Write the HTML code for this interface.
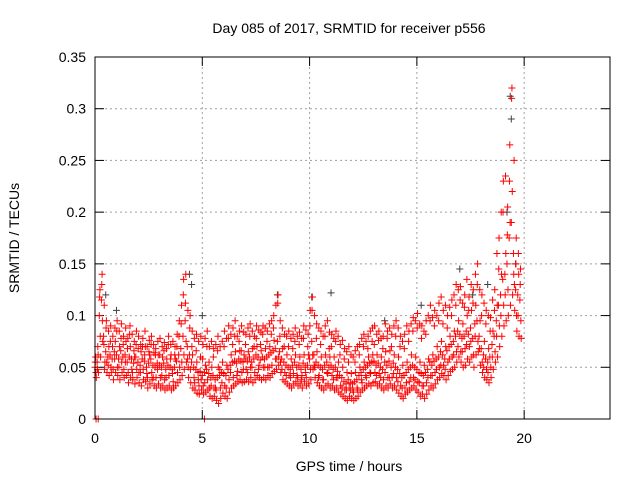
<!DOCTYPE html>
<html><head><meta charset="utf-8"><style>
body{margin:0;background:#fff}
svg{display:block;font-family:"Liberation Sans",sans-serif}
</style></head><body>
<svg id="chart" width="640" height="480">
<text x="349" y="33" font-size="14" text-anchor="middle">Day 085 of 2017, SRMTID for receiver p556</text>
<text x="349" y="471" font-size="14" text-anchor="middle">GPS time / hours</text>
<text transform="translate(19,238) rotate(-90)" font-size="14" text-anchor="middle">SRMTID / TECUs</text>
<g id="grid"></g>
<g id="ticks"></g>
<g id="dark"></g>
<g id="red"></g>
<rect x="95" y="57" width="515" height="362" fill="none" stroke="#000" stroke-width="1"/>
</svg>
<script>
const xTicks=[0,5,10,15,20];
const yTicks=[0,0.05,0.1,0.15,0.2,0.25,0.3,0.35];
const yTickLabels=["0","0.05","0.1","0.15","0.2","0.25","0.3","0.35"];
const high=[60,70,125,140,110,95,85,90,80,88,95,85,92,80,88,78,90,82,75,85,80,72,78,85,70,76,80,72,68,75,78,70,74,68,80,72,75,70,82,95,110,135,140,105,100,85,78,82,75,80,72,78,85,70,75,68,72,80,70,75,85,78,90,82,88,95,80,85,90,84,82,88,92,85,80,90,86,84,90,88,85,92,95,100,110,120,95,88,82,80,85,78,82,88,80,84,78,90,86,82,105,118,100,92,88,85,80,90,95,84,82,78,85,80,72,76,68,65,70,62,60,66,70,72,78,82,75,80,85,88,90,82,85,78,80,92,85,88,82,90,95,88,80,75,82,90,85,92,98,95,102,92,90,85,95,100,110,98,105,100,112,118,105,110,100,108,115,120,130,125,128,112,120,135,118,130,125,140,150,125,120,112,105,100,98,115,125,160,175,200,230,235,205,265,320,250,175,160,145];
const mid=[50,55,100,115,80,65,60,62,58,65,62,58,66,60,62,55,60,58,54,60,55,52,58,56,50,54,58,52,50,54,52,50,54,48,52,50,48,50,56,62,68,80,95,70,62,55,50,48,45,46,42,45,48,44,40,42,38,40,42,45,44,42,48,52,55,56,54,58,56,55,58,56,60,55,58,62,60,57,60,58,60,62,64,66,68,75,65,58,55,52,50,48,52,55,50,52,48,54,50,52,58,75,62,55,52,50,48,52,55,50,52,48,50,46,42,40,36,34,38,35,34,36,38,42,45,48,50,52,54,55,56,52,54,50,48,55,52,56,50,54,50,48,44,40,42,45,48,50,52,50,48,45,44,42,45,48,55,52,56,58,60,65,62,58,66,70,72,75,80,85,82,78,80,85,82,88,78,92,95,80,68,62,58,55,60,72,80,95,110,120,135,140,150,175,190,160,125,120,115];
const low=[40,45,60,75,55,45,42,45,38,45,42,38,45,40,42,35,40,38,34,40,35,32,38,36,30,34,38,32,30,34,30,32,28,30,32,28,30,32,35,38,42,48,55,40,35,30,28,25,24,28,24,26,28,22,20,22,18,15,20,25,22,20,26,30,32,34,36,38,35,36,38,36,40,35,38,42,40,38,40,38,42,40,44,46,48,52,45,38,36,34,32,30,34,36,32,34,30,36,32,34,38,48,40,35,32,30,28,32,34,30,32,28,30,26,24,22,20,18,22,20,18,20,22,26,28,30,32,34,32,35,36,32,34,30,28,32,30,34,30,32,28,25,22,20,24,26,28,30,32,28,26,22,24,20,24,28,32,30,34,38,40,44,42,38,42,46,48,50,55,60,55,50,52,58,55,60,50,62,65,52,45,40,38,35,40,48,55,60,70,80,90,95,100,110,120,105,85,80,78];
const scatA=[55,48,118,130,72,88,52,75,70,58,85,50,78,72,55,68,82,48,66,72,68,45,70,62,44,65,72,40,62,48,62,42,66,40,72,58,44,62,70,80,92,120,112,58,88,70,40,66,38,60,58,35,70,55,32,60,30,66,48,35,70,30,78,45,72,80,42,75,66,48,72,45,80,50,70,78,48,72,82,50,75,50,82,88,58,112,80,48,70,42,70,40,68,75,42,72,38,78,45,70,90,105,52,78,40,72,38,80,45,68,70,38,75,40,62,30,58,28,55,28,28,55,30,62,38,70,42,68,45,75,72,42,76,40,68,45,78,40,70,44,80,36,70,30,68,35,75,40,85,38,88,35,78,32,82,40,95,42,90,48,95,52,92,48,88,58,100,62,110,70,115,65,108,72,105,75,112,80,130,68,100,50,92,45,85,60,105,80,145,100,200,120,178,230,310,140,150,100,130];
const scatB=[45,62,80,95,48,55,70,50,48,75,50,70,55,48,75,45,70,45,60,48,45,65,48,70,40,62,45,64,40,62,40,60,38,58,42,62,36,58,45,50,55,62,75,50,48,62,35,55,32,38,32,52,38,30,50,30,28,50,30,55,32,52,38,62,40,65,46,66,45,62,48,65,50,68,45,70,52,66,50,68,50,70,52,76,58,60,55,68,45,62,42,58,44,62,40,60,42,62,40,62,48,62,50,65,42,60,38,62,44,60,42,60,40,55,32,50,28,45,30,44,26,45,28,50,35,55,40,60,44,62,45,62,44,60,38,65,40,66,40,62,40,60,32,52,30,55,36,62,40,60,36,55,32,52,35,58,42,62,45,70,50,75,52,70,55,80,60,85,65,95,65,92,68,100,70,105,62,110,75,95,55,75,48,68,50,85,65,110,90,140,110,160,125,190,220,130,100,140,95];
const darkX=[0.5,1.0,4.4,4.5,5.0,8.5,10.1,11.0,13.5,15.2,17.0,17.6,18.3,19.2,19.35,19.4,19.6];
const darkY=[0.12,0.105,0.14,0.13,0.1,0.12,0.118,0.122,0.095,0.11,0.145,0.12,0.13,0.2,0.312,0.29,0.15];
const redZeroX=[0.05,0.15,5.1];
const NS="http://www.w3.org/2000/svg";
const X=h=>95+h*(515/24);
const Y=v=>419-v*(362/0.35);
const grid=document.getElementById('grid'),ticks=document.getElementById('ticks'),svg=document.getElementById('chart');
function mk(tag,parent,attrs){const e=document.createElementNS(NS,tag);for(const k in attrs)e.setAttribute(k,attrs[k]);parent.appendChild(e);return e;}
xTicks.forEach(t=>{
  const gl=mk('line',grid,{x1:X(t),x2:X(t),y1:57,y2:419,stroke:'#a0a0a0','stroke-dasharray':'2,3'});
  
  
  mk('line',ticks,{x1:X(t),x2:X(t),y1:419,y2:410,stroke:'#000'});
  mk('line',ticks,{x1:X(t),x2:X(t),y1:57,y2:66,stroke:'#000'});
  const lb=mk('text',svg,{x:X(t),y:443,'font-size':14,'text-anchor':'middle'});
  lb.textContent=String(t);
  
  
});
yTicks.forEach((v,i)=>{
  const gl=mk('line',grid,{x1:95,x2:610,y1:Y(v),y2:Y(v),stroke:'#a0a0a0','stroke-dasharray':'2,3'});
  
  
  mk('line',ticks,{x1:95,x2:104,y1:Y(v),y2:Y(v),stroke:'#000'});
  mk('line',ticks,{x1:610,x2:601,y1:Y(v),y2:Y(v),stroke:'#000'});
  const lb=mk('text',svg,{x:86,y:Y(v)+5,'font-size':14,'text-anchor':'end'});
  lb.textContent=yTickLabels[i];
  
  
});
function plus(g,h,v,col){
  const x=X(h),y=Y(v);
  const p=mk('path',g,{d:`M${x-3.5},${y}H${x+3.5}M${x},${y-3.5}V${y+3.5}`,stroke:col,'stroke-width':1,fill:'none'});
  
  
}
const dark=document.getElementById('dark'),red=document.getElementById('red');
darkX.forEach((h,i)=>plus(dark,h,darkY[i],'#404040'));
for(let i=0;i<mid.length;i++){
  const t=i*0.1;
  plus(red,t,mid[i]/1000,'#ff0000');
  plus(red,t+0.015,scatA[i]/1000,'#ff0000');
  plus(red,t+0.03,high[i]/1000,'#ff0000');
  plus(red,t+0.045,scatB[i]/1000,'#ff0000');
  plus(red,t+0.06,low[i]/1000,'#ff0000');
}
redZeroX.forEach(h=>plus(red,h,0,'#ff0000'));
</script>
</body></html>
